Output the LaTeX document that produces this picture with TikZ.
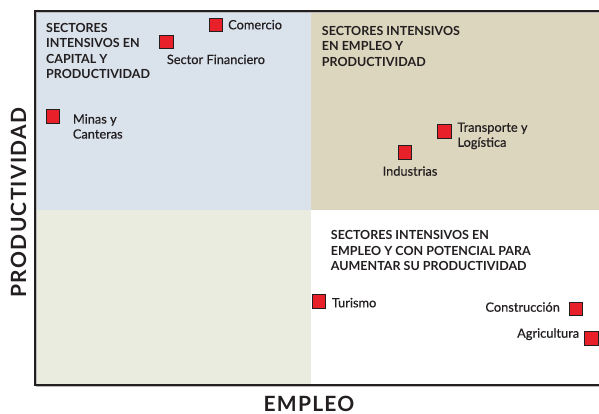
\documentclass[tikz,border=0pt]{standalone}
\usepackage{fontspec}
\setmainfont{Lato}
\newfontfamily\etiqfont{Lato}[FakeBold=0.5]
\newfontfamily\ejefont{Lato}[LetterSpace=6]
\definecolor{cuadazul}{HTML}{DAE3EC}
\definecolor{cuadbeige}{HTML}{DDD6BE}
\definecolor{cuadverde}{HTML}{E9ECDF}
\definecolor{rojosec}{HTML}{E8202A}
\definecolor{textogris}{HTML}{231F20}

\begin{document}
\begin{tikzpicture}[x=1pt, y=-1pt,
  sector/.style={draw=textogris, line width=0.9pt, fill=rojosec, minimum size=13.5pt, inner sep=0pt},
  etiqueta/.style={font=\etiqfont\fontsize{12.8}{15}\selectfont, text=textogris, inner sep=0pt, align=left},
  titulo/.style={font=\bfseries\fontsize{12.5}{15.5}\selectfont, text=textogris, inner sep=0pt, align=left, anchor=north west},
  ejetxt/.style={font=\ejefont\bfseries\fontsize{21}{23}\selectfont, text=textogris, inner sep=0pt}]

\useasboundingbox (0,0) rectangle (599,413);

% cuadrantes
\fill[cuadazul] (35,11) rectangle (311,210);
\fill[cuadbeige] (311,11) rectangle (599,210);
\fill[cuadverde] (35,210) rectangle (311,385);
\fill[white] (311,210) rectangle (599,385);

% ejes
\draw[gray!55, line width=1pt] (599,12.5) -- (36.5,12.5) -- (36.5,386.5) -- (599,386.5);
\draw[textogris, line width=1.3pt] (599,11) -- (35,11) -- (35,385) -- (599,385);

\node[ejetxt, rotate=90] (prod) at (18.5,202.5) {PRODUCTIVIDAD};
\node[ejetxt] (empleo) at (309,403.5) {EMPLEO};

% titulos
\node[titulo] (capital) at (46,22.7) {SECTORES\\INTENSIVOS EN\\CAPITAL Y\\PRODUCTIVIDAD};
\node[titulo] (intensivos) at (321.7,26) {SECTORES INTENSIVOS\\EN EMPLEO Y\\PRODUCTIVIDAD};
\node[titulo] (potencial) at (330.7,230.3) {SECTORES INTENSIVOS EN\\EMPLEO Y CON POTENCIAL PARA\\AUMENTAR SU PRODUCTIVIDAD};

% sectores
\node[sector] (comercio) at (216,25) {};
\node[etiqueta, anchor=base west] (comercio-t) at (228,29.3) {Comercio};

\node[sector] (financiero) at (166.5,42) {};
\node[etiqueta, anchor=base west] (financiero-t) at (166.7,64) {Sector Financiero};

\node[sector] (minas) at (53,116.5) {};
\node[etiqueta, anchor=north west] (minas-t) at (72.7,114) {Minas y\\Canteras};

\node[sector] (transporte) at (444.3,131.5) {};
\node[etiqueta, anchor=north west] (transporte-t) at (457.3,122.4) {Transporte y\\Logística};

\node[sector] (industrias) at (405,152.5) {};
\node[etiqueta, anchor=base] (industrias-t) at (410,175.7) {Industrias};

\node[sector] (turismo) at (318.8,301.5) {};
\node[etiqueta, anchor=base west] (turismo-t) at (331.7,307.3) {Turismo};

\node[sector] (construccion) at (576,309) {};
\node[etiqueta, anchor=base east] (construccion-t) at (560,311.7) {Construcción};

\node[sector] (agricultura) at (591.5,338.3) {};
\node[etiqueta, anchor=base east] (agricultura-t) at (579.3,337.7) {Agricultura};

\end{tikzpicture}
\end{document}
